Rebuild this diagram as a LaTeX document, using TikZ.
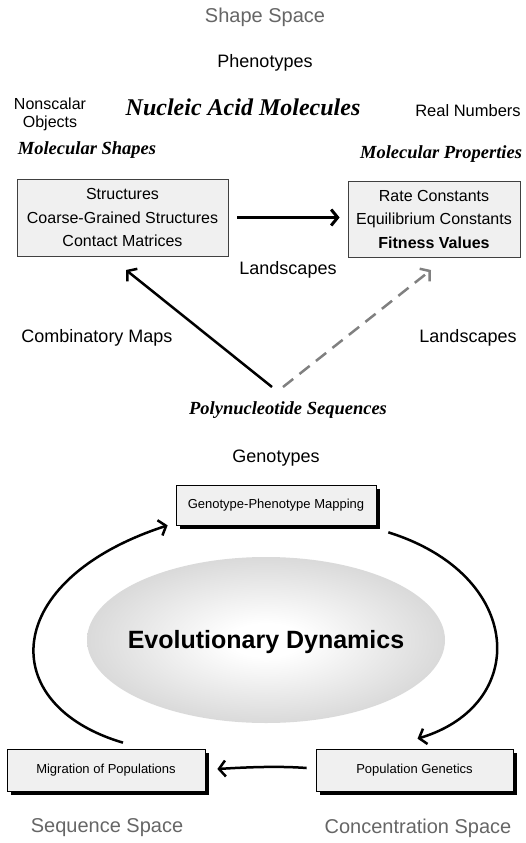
\documentclass[tikz,border=0pt]{standalone}
\usepackage{fontspec}
\setmainfont{Liberation Sans}
\newfontfamily\serifbi{Liberation Serif}
\usetikzlibrary{arrows.meta,shadows}
\pgfdeclareradialshading{evoshade}{\pgfpoint{0bp}{0bp}}{color(0bp)=(white); color(5bp)=(white); color(50bp)=(black!33)}
\begin{document}
\begin{tikzpicture}[x=1pt,y=-1pt,
  lbl/.style={inner sep=0pt, font=\fontsize{18}{21}\selectfont},
  spacelbl/.style={inner sep=0pt, text=black!60, font=\fontsize{20}{24}\selectfont},
  molbl/.style={inner sep=0pt, font=\serifbi\bfseries\itshape\fontsize{18.5}{22}\selectfont},
  topbox/.style={draw=black!75, line width=0.8pt, fill=black!6, align=center, inner sep=0pt, font=\fontsize{16}{23.5}\selectfont},
  botbox/.style={draw=black, line width=0.7pt, fill=black!6, inner sep=0pt, font=\fontsize{13}{15}\selectfont,
     drop shadow={shadow xshift=4pt, shadow yshift=-4pt, fill=black, opacity=1}},
  arr/.style={line width=2.5pt, -{Straight Barb[length=6.5pt,width=16pt]}},
]
\useasboundingbox (0,0) rectangle (525,843);

% top part
\node[spacelbl] (shape) at (265,17) {Shape Space};
\node[lbl] (pheno) at (265,63) {Phenotypes};
\node[lbl, align=center, font=\fontsize{16}{18}\selectfont] (nonsc) at (50,114) {Nonscalar\\Objects};
\node[molbl, font=\serifbi\bfseries\itshape\fontsize{24}{28}\selectfont] (nucleic) at (243,107) {Nucleic Acid Molecules};
\node[lbl, font=\fontsize{16.5}{19}\selectfont] (real) at (468,111) {Real Numbers};
\node[molbl] (molshape) at (87,150) {Molecular Shapes};
\node[molbl] (molprop) at (441,154) {Molecular Properties};

\node[topbox, minimum width=211pt, minimum height=77pt] (S) at (122.5,217.5) {Structures\\Coarse-Grained Structures\\Contact Matrices};
\node[topbox, minimum width=172pt, minimum height=76pt] (R) at (434,219) {Rate Constants\\Equilibrium Constants\\\textbf{Fitness Values}};

\node[lbl] (land1) at (288,270) {Landscapes};
\node[lbl] (comb) at (97,338) {Combinatory Maps};
\node[lbl] (land2) at (468,338) {Landscapes};
\node[molbl] (poly) at (288,410) {Polynucleotide Sequences};
\node[lbl] (geno) at (276,458) {Genotypes};

\coordinate (srcA) at (272,387);
\coordinate (srcB) at (283,387);
\coordinate (tipA) at (126,270);
\coordinate (tipB) at (431,270);

\draw[arr, line width=3pt] ([xshift=9pt]S.east) -- ([xshift=-8pt]S.east -| R.west);
\draw[arr] (srcA) -- (tipA);
\draw[arr, draw=black!50, dash pattern=on 13pt off 8pt] (srcB) -- (tipB);

% bottom part
\shade[shading=evoshade] (266,640) ellipse [x radius=179pt, y radius=83pt];
\node[inner sep=0pt, font=\bfseries\fontsize{25}{30}\selectfont] (evo) at (266,642) {Evolutionary Dynamics};

\node[botbox, minimum width=200pt, minimum height=40pt] (GP) at (276,505) {Genotype-Phenotype Mapping};
\node[botbox, minimum width=198pt, minimum height=42pt] (Mig) at (106,770) {Migration of Populations};
\node[botbox, minimum width=197pt, minimum height=42pt] (PG) at (414.5,770) {Population Genetics};

\draw[arr] ([xshift=17pt,yshift=6pt]Mig.north) .. controls (-5,705) and (0,580) .. ([xshift=-8pt]GP.south west);
\draw[arr] ([xshift=12pt,yshift=-7pt]GP.south east) .. controls (525,575) and (530,705) .. ([xshift=3pt,yshift=10pt]PG.north);
\draw[arr] ([xshift=-9pt,yshift=2pt]PG.west) .. controls (280,766) and (250,767) .. ([xshift=12pt,yshift=1pt]Mig.east);

\node[spacelbl] (seqsp) at (107,828) {Sequence Space};
\node[spacelbl] (concsp) at (418,828) {Concentration Space};
\end{tikzpicture}
\end{document}
